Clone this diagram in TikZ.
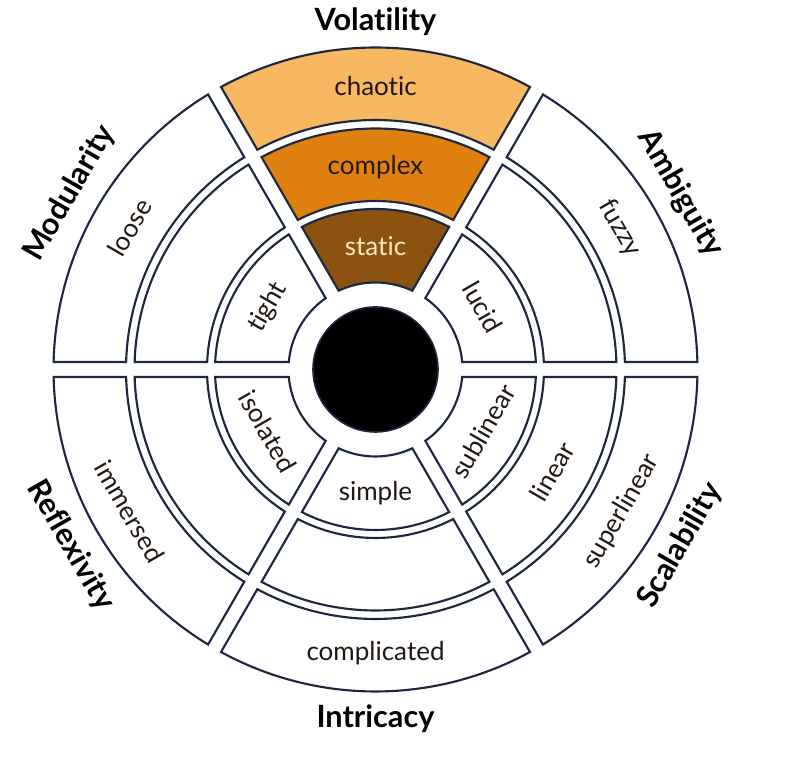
\documentclass[tikz,border=0pt]{standalone}
\usepackage{fontspec}
\setmainfont{Lato}[Ligatures={NoCommon}]
\definecolor{navy}{HTML}{1C2841}
\definecolor{chaoticc}{HTML}{F8B862}
\definecolor{complexc}{HTML}{E0810F}
\definecolor{staticc}{HTML}{8C5310}
\definecolor{darktext}{HTML}{221812}
\definecolor{creamtext}{HTML}{FBE8C8}
\tikzset{
  cellbox/.style={draw=navy, line width=1.6pt, line join=miter},
  celltext/.style={font=\fontsize{19.5}{22}\selectfont, text=darktext, inner sep=0pt},
  dimlabel/.style={font=\bfseries\fontsize{23}{26}\selectfont, text=black, inner sep=0pt}
}
% #1 start angle, #2 end angle, #3 inner radius, #4 outer radius, #5 fill
\newcommand\drawcell[5]{%
  \draw[cellbox, fill=#5]
    ({#1+asin(7.5/#4)}:#4) arc[start angle={#1+asin(7.5/#4)}, end angle={#2-asin(7.5/#4)}, radius=#4]
    -- ({#2-asin(7.5/#3)}:#3) arc[start angle={#2-asin(7.5/#3)}, end angle={#1+asin(7.5/#3)}, radius=#3]
    -- cycle;}
\begin{document}
\begin{tikzpicture}[x=0.75pt, y=0.75pt]
\useasboundingbox (0,0) rectangle (800,773);
\begin{scope}[shift={(375.5,403.5)}]
  % Volatility
  \drawcell{60}{120}{87}{160.5}{staticc}
  \drawcell{60}{120}{168.5}{241}{complexc}
  \drawcell{60}{120}{249.5}{322}{chaoticc}
  % Ambiguity
  \drawcell{0}{60}{87}{160.5}{white}
  \drawcell{0}{60}{168.5}{241}{white}
  \drawcell{0}{60}{249.5}{322}{white}
  % Scalability
  \drawcell{-60}{0}{87}{160.5}{white}
  \drawcell{-60}{0}{168.5}{241}{white}
  \drawcell{-60}{0}{249.5}{322}{white}
  % Intricacy
  \drawcell{-120}{-60}{87}{160.5}{white}
  \drawcell{-120}{-60}{168.5}{241}{white}
  \drawcell{-120}{-60}{249.5}{322}{white}
  % Reflexivity
  \drawcell{180}{240}{87}{160.5}{white}
  \drawcell{180}{240}{168.5}{241}{white}
  \drawcell{180}{240}{249.5}{322}{white}
  % Modularity
  \drawcell{120}{180}{87}{160.5}{white}
  \drawcell{120}{180}{168.5}{241}{white}
  \drawcell{120}{180}{249.5}{322}{white}
  % hub
  \draw[fill=black, draw=navy, line width=1.2pt] (0,0) circle[radius=62.5];
  % cell texts
  \node[celltext, text=creamtext] (static) at (90:123) {static};
  \node[celltext] (complex) at (90:202) {complex};
  \node[celltext] (chaotic) at (90:283) {chaotic};
  \node[celltext, rotate=-60] (lucid) at (30:124) {lucid};
  \node[celltext, rotate=-60] (fuzzy) at (30:282) {fuzzy};
  \node[celltext, rotate=60] (sublinear) at (-30:124) {sublinear};
  \node[celltext, rotate=60] (linear) at (-30:204) {linear};
  \node[celltext, rotate=60] (superlinear) at (-30:284) {superlinear};
  \node[celltext] (simple) at (-90:124) {simple};
  \node[celltext] (complicated) at (-90:284) {complicated};
  \node[celltext, rotate=-60] (isolated) at (210:124) {isolated};
  \node[celltext, rotate=-60] (immersed) at (210:284) {immersed};
  \node[celltext, rotate=60] (tight) at (150:124) {tight};
  \node[celltext, rotate=60] (loose) at (150:284) {loose};
  % dimension labels
  \node[dimlabel] (volatility) at (90:348) {Volatility};
  \node[dimlabel, rotate=-60] (ambiguity) at (30:352) {Ambiguity};
  \node[dimlabel, rotate=60] (scalability) at (-30:352) {Scalability};
  \node[dimlabel] (intricacy) at (-90:349) {Intricacy};
  \node[dimlabel, rotate=-60] (reflexivity) at (210:352) {Reflexivity};
  \node[dimlabel, rotate=60] (modularity) at (150:353) {Modularity};
\end{scope}
\end{tikzpicture}
\end{document}
